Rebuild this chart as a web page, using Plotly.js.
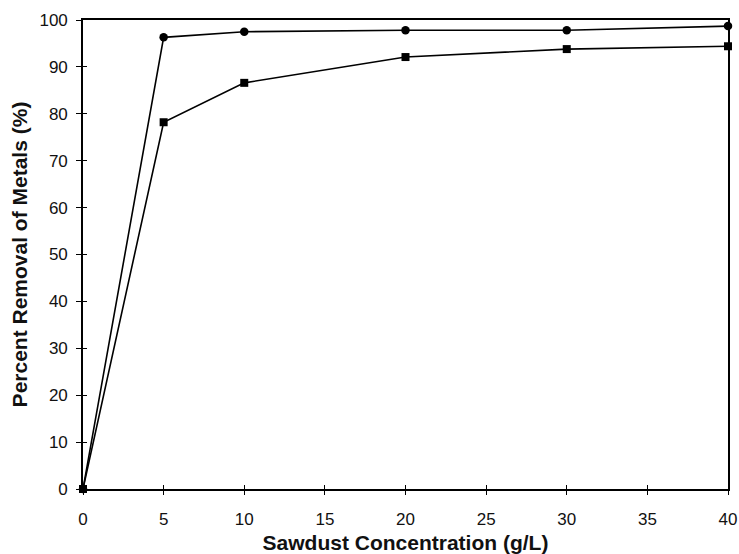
<!DOCTYPE html>
<html><head><meta charset="utf-8">
<script src="https://cdn.plot.ly/plotly-3.0.1.min.js"></script>
<style>body{margin:0;background:#fff}#c{width:739px;height:554px}</style>
</head><body><div id="c"></div>
<script>
var conc = [0, 5, 10, 20, 30, 40];
var removalCircle = [0, 96.3, 97.5, 97.8, 97.8, 98.7];
var removalSquare = [0, 78.2, 86.6, 92.1, 93.8, 94.4];
var xTicks = [0, 5, 10, 15, 20, 25, 30, 35, 40];
var yTicks = [0, 10, 20, 30, 40, 50, 60, 70, 80, 90, 100];

var traces = [
  {x: conc, y: removalCircle, mode: 'lines+markers', line: {color: '#000', width: 1.6},
   marker: {symbol: 'circle', size: 8.5, color: '#000'}, cliponaxis: false, showlegend: false},
  {x: conc, y: removalSquare, mode: 'lines+markers', line: {color: '#000', width: 1.6},
   marker: {symbol: 'square', size: 8, color: '#000'}, cliponaxis: false, showlegend: false},
  {x: [0], y: [0], xaxis: 'x2', yaxis: 'y2', mode: 'markers', marker: {opacity: 0}, showlegend: false, hoverinfo: 'skip'}
];

var fam = 'Liberation Sans, Arial, sans-serif';
var font = {family: fam, size: 17, color: '#111'};
var tfont = {family: fam, size: 21, color: '#111', weight: 'bold'};
var layout = {
  width: 739, height: 554,
  margin: {l: 83, r: 11, t: 20, b: 65},
  paper_bgcolor: '#fff', plot_bgcolor: '#fff',
  font: font,
  xaxis: {range: [0, 40], tickvals: xTicks, ticks: 'outside', ticklen: 4, tickwidth: 1, tickcolor: '#000',
          showline: true, linecolor: '#000', linewidth: 1.8, mirror: true, showgrid: false, zeroline: false,
          tickfont: font, ticklabelstandoff: 10,
          title: {text: 'Sawdust Concentration (g/L)', font: tfont, standoff: 8}},
  yaxis: {range: [0, 100], tickvals: yTicks, ticks: 'outside', ticklen: 5, tickwidth: 1, tickcolor: '#000',
          showline: true, linecolor: '#000', linewidth: 1.8, mirror: true, showgrid: false, zeroline: false,
          tickfont: font, ticklabelstandoff: 5,
          title: {text: 'Percent Removal of Metals (%)', font: tfont, standoff: 6}},
  xaxis2: {overlaying: 'x', range: [0, 40], tickvals: xTicks, ticks: 'inside', ticklen: 4, tickwidth: 1, tickcolor: '#000',
           showticklabels: false, showgrid: false, zeroline: false, showline: false},
  yaxis2: {overlaying: 'y', range: [0, 100], tickvals: yTicks, ticks: 'inside', ticklen: 4, tickwidth: 1, tickcolor: '#000',
           showticklabels: false, showgrid: false, zeroline: false, showline: false}
};
Plotly.newPlot('c', traces, layout, {displayModeBar: false, staticPlot: true});
</script></body></html>
